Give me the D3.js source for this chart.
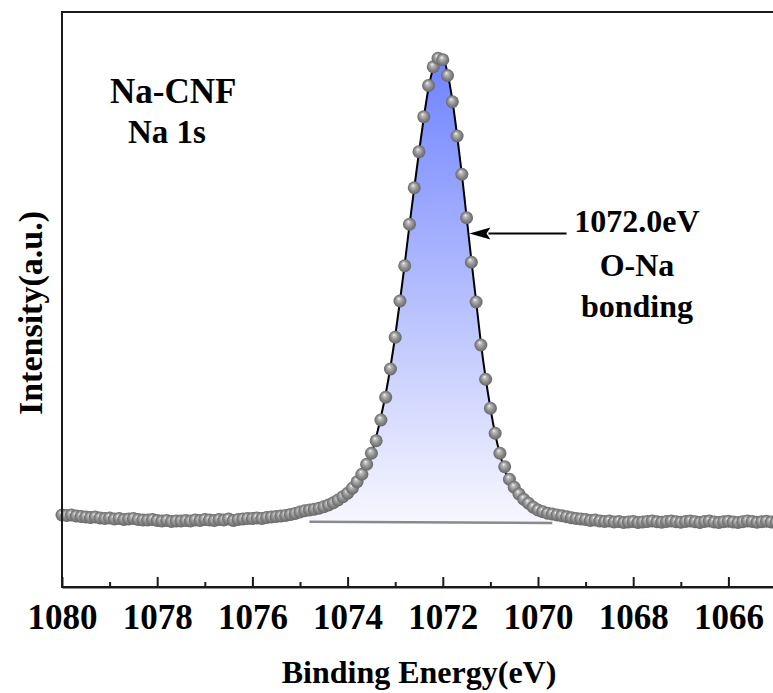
<!DOCTYPE html>
<html>
<head>
<meta charset="utf-8">
<title>Na 1s XPS</title>
<script src="https://cdn.jsdelivr.net/npm/d3@7"></script>
<style>
	html, body { margin: 0; padding: 0; background: #fff; }
	svg { display: block; }
	text { font-family: "Times New Roman", "Liberation Serif", serif; font-weight: bold; fill: #000; }
</style>
</head>
<body>
<svg id="graph"></svg>
<script>
;(() => {
	'use strict';

	/* globals d3 */

	// measured scan, binding energy (eV) -> counts (a.u.)
	const energies = [
		1080.0, 1079.9, 1079.8, 1079.7, 1079.6, 1079.5, 1079.4, 1079.3, 1079.2, 1079.1,
		1079.0, 1078.9, 1078.8, 1078.7, 1078.6, 1078.5, 1078.4, 1078.3, 1078.2, 1078.1,
		1078.0, 1077.9, 1077.8, 1077.7, 1077.6, 1077.5, 1077.4, 1077.3, 1077.2, 1077.1,
		1077.0, 1076.9, 1076.8, 1076.7, 1076.6, 1076.5, 1076.4, 1076.3, 1076.2, 1076.1,
		1076.0, 1075.9, 1075.8, 1075.7, 1075.6, 1075.5, 1075.4, 1075.3, 1075.2, 1075.1,
		1075.0, 1074.9, 1074.8, 1074.7, 1074.6, 1074.5, 1074.4, 1074.3, 1074.2, 1074.1,
		1074.0, 1073.9, 1073.8, 1073.7, 1073.6, 1073.5, 1073.4, 1073.3, 1073.2, 1073.1,
		1073.0, 1072.9, 1072.8, 1072.7, 1072.6, 1072.5, 1072.4, 1072.3, 1072.2, 1072.1,
		1072.0, 1071.9, 1071.8, 1071.7, 1071.6, 1071.5, 1071.4, 1071.3, 1071.2, 1071.1,
		1071.0, 1070.9, 1070.8, 1070.7, 1070.6, 1070.5, 1070.4, 1070.3, 1070.2, 1070.1,
		1070.0, 1069.9, 1069.8, 1069.7, 1069.6, 1069.5, 1069.4, 1069.3, 1069.2, 1069.1,
		1069.0, 1068.9, 1068.8, 1068.7, 1068.6, 1068.5, 1068.4, 1068.3, 1068.2, 1068.1,
		1068.0, 1067.9, 1067.8, 1067.7, 1067.6, 1067.5, 1067.4, 1067.3, 1067.2, 1067.1,
		1067.0, 1066.9, 1066.8, 1066.7, 1066.6, 1066.5, 1066.4, 1066.3, 1066.2, 1066.1,
		1066.0, 1065.9, 1065.8, 1065.7, 1065.6, 1065.5, 1065.4, 1065.3, 1065.2, 1065.1,
		1065.0
	];

	const counts = [
		1440, 1430, 1440, 1420, 1410, 1400, 1390, 1400, 1380, 1370,
		1380, 1360, 1370, 1350, 1360, 1370, 1350, 1340, 1340, 1350,
		1330, 1320, 1330, 1310, 1320, 1320, 1330, 1320, 1340, 1330,
		1350, 1340, 1330, 1350, 1340, 1360, 1330, 1350, 1360, 1370,
		1370, 1380, 1370, 1390, 1400, 1410, 1420, 1430, 1450, 1470,
		1500, 1525, 1540, 1555, 1575, 1605, 1640, 1685, 1740, 1805,
		1875, 1975, 2105, 2255, 2455, 2675, 2925, 3340, 3795, 4360,
		4995, 5720, 6425, 7255, 7985, 8705, 9405, 10030, 10405, 10575,
		10545, 10230, 9705, 9020, 8255, 7385, 6495, 5700, 4840, 4155,
		3575, 3075, 2675, 2405, 2155, 1995, 1860, 1755, 1675, 1595,
		1540, 1505, 1475, 1460, 1440, 1425, 1405, 1385, 1370, 1360,
		1350, 1330, 1340, 1320, 1310, 1320, 1300, 1310, 1290, 1300,
		1310, 1290, 1300, 1310, 1320, 1305, 1295, 1310, 1320, 1305,
		1295, 1310, 1320, 1305, 1290, 1310, 1320, 1300, 1290, 1305,
		1315, 1300, 1290, 1305, 1320, 1310, 1295, 1305, 1315, 1300,
		1290
	];

	// fitted O-Na component (envelope incl. background)
	const fitEnergies = [
		1074.8, 1074.7, 1074.6, 1074.5, 1074.4, 1074.3, 1074.2, 1074.1, 1074.0, 1073.9,
		1073.8, 1073.7, 1073.6, 1073.5, 1073.4, 1073.3, 1073.2, 1073.1, 1073.0, 1072.9,
		1072.8, 1072.7, 1072.6, 1072.5, 1072.4, 1072.3, 1072.2, 1072.1, 1072.0, 1071.9,
		1071.8, 1071.7, 1071.6, 1071.5, 1071.4, 1071.3, 1071.2, 1071.1, 1071.0, 1070.9,
		1070.8, 1070.7, 1070.6, 1070.5, 1070.4, 1070.3, 1070.2, 1070.1, 1070.0, 1069.9,
		1069.8, 1069.7
	];

	const fitCounts = [
		1490, 1505, 1525, 1555, 1590, 1635, 1690, 1755, 1830, 1930,
		2060, 2220, 2420, 2650, 3000, 3400, 3860, 4400, 5020, 5720,
		6460, 7240, 7980, 8700, 9380, 9980, 10380, 10560, 10560, 10280,
		9740, 9040, 8260, 7400, 6540, 5720, 4880, 4180, 3580, 3060,
		2660, 2340, 2100, 1940, 1810, 1710, 1630, 1560, 1500, 1460,
		1430, 1400
	];

	// linear background under the peak
	const bgEnergies = [1074.8, 1069.7],
		bgCounts = [1306, 1280];

	const majorTicks = [1080, 1078, 1076, 1074, 1072, 1070, 1068, 1066],
		minorTicks = [1079, 1077, 1075, 1073, 1071, 1069, 1067, 1065];

	const sampleLines = ['Na-CNF', 'Na 1s'],
		peakLines = ['1072.0eV', 'O-Na', 'bonding'];

	// arrow in data units: from label towards the fitted curve
	const arrowFrom = [1069.4, 7070],
		arrowTo = [1071.44, 7070];


	const width = 773,
		height = 693,
		margin = {top: 12, left: 62, bottom: 106},
		plotRight = 776,
		plotBottom = height - margin.bottom,
		ballRadius = 6.5;

	const svg = d3.select('#graph')
		.attr('width', width)
		.attr('height', height);

	const x = d3.scaleLinear().domain([1080, 1065]).range([margin.left, plotRight]),
		y = d3.scaleLinear().domain([0, 11500]).range([plotBottom, margin.top]);

	const points = energies.map((e, i) => ({e: e, c: counts[i]})),
		fitPoints = fitEnergies.map((e, i) => ({e: e, c: fitCounts[i]})),
		bgPoints = bgEnergies.map((e, i) => ({e: e, c: bgCounts[i]}));


	/**
	* gradients for the peak fill and the shaded balls
	* @returns {undefined}
	*/
	const addDefs = function() {
		const defs = svg.append('defs');

		const fillGrad = defs.append('linearGradient')
			.attr('id', 'peakFill')
			.attr('gradientUnits', 'userSpaceOnUse')
			.attr('x1', 0).attr('x2', 0)
			.attr('y1', y(10560)).attr('y2', y(1300));
		fillGrad.append('stop').attr('offset', 0).attr('stop-color', '#6f83ff');
		fillGrad.append('stop').attr('offset', 1).attr('stop-color', '#f7f7fe');

		const ball = defs.append('radialGradient')
			.attr('id', 'ball')
			.attr('cx', 0.5).attr('cy', 0.5).attr('r', 0.5)
			.attr('fx', 0.4).attr('fy', 0.3);
		ball.append('stop').attr('offset', 0).attr('stop-color', '#ffffff');
		ball.append('stop').attr('offset', 0.2).attr('stop-color', '#c2c2c2');
		ball.append('stop').attr('offset', 0.6).attr('stop-color', '#8e8e8e');
		ball.append('stop').attr('offset', 1).attr('stop-color', '#666666');
	};


	/**
	* filled peak, background line and fitted envelope
	* @returns {undefined}
	*/
	const drawPeak = function() {
		// fill between fit and the straight background
		const bgAt = function(e) {
			const t = (e - bgEnergies[0]) / (bgEnergies[1] - bgEnergies[0]);
			return bgCounts[0] + t * (bgCounts[1] - bgCounts[0]);
		};

		const area = d3.area()
			.x(d => x(d.e))
			.y0(d => y(bgAt(d.e)))
			.y1(d => y(d.c))
			.curve(d3.curveMonotoneX);

		svg.append('path')
			.datum(fitPoints)
			.attr('d', area)
			.attr('fill', 'url(#peakFill)');

		svg.append('path')
			.datum(bgPoints)
			.attr('d', d3.line().x(d => x(d.e)).y(d => y(d.c)))
			.attr('fill', 'none')
			.attr('stroke', '#8a8a8a')
			.attr('stroke-width', 2.5);

		svg.append('path')
			.datum(fitPoints)
			.attr('d', d3.line().x(d => x(d.e)).y(d => y(d.c)).curve(d3.curveMonotoneX))
			.attr('fill', 'none')
			.attr('stroke', '#000')
			.attr('stroke-width', 2);
	};


	/**
	* measured points as shaded balls
	* @returns {undefined}
	*/
	const drawPoints = function() {
		svg.append('g')
			.selectAll('circle')
			.data(points)
			.enter()
			.append('circle')
			.attr('cx', d => x(d.e))
			.attr('cy', d => y(d.c))
			.attr('r', ballRadius)
			.attr('fill', 'url(#ball)');
	};


	/**
	* frame, ticks, tick labels and titles
	* @returns {undefined}
	*/
	const drawAxes = function() {
		svg.append('rect')
			.attr('x', margin.left)
			.attr('y', margin.top)
			.attr('width', plotRight - margin.left)
			.attr('height', plotBottom - margin.top)
			.attr('fill', 'none')
			.attr('stroke', '#1a1a1a')
			.attr('stroke-width', 2);

		const major = svg.append('g')
			.attr('transform', 'translate(0,' + plotBottom + ')')
			.call(d3.axisBottom(x)
				.tickValues(majorTicks)
				.tickSize(-10)
				.tickSizeOuter(0)
				.tickPadding(17)
				.tickFormat(d3.format('d')));
		major.select('.domain').attr('stroke', '#1a1a1a').attr('stroke-width', 2);
		major.selectAll('.tick line').attr('stroke', '#1a1a1a').attr('stroke-width', 2);
		major.selectAll('.tick text')
			.attr('font-family', null)
			.attr('font-size', null)
			.style('font-size', '35px');

		const minor = svg.append('g')
			.attr('transform', 'translate(0,' + plotBottom + ')')
			.call(d3.axisBottom(x)
				.tickValues(minorTicks)
				.tickSize(-5)
				.tickSizeOuter(0)
				.tickFormat(''));
		minor.select('.domain').remove();
		minor.selectAll('.tick line').attr('stroke', '#1a1a1a').attr('stroke-width', 2);

		svg.append('text')
			.attr('x', (margin.left + plotRight) / 2)
			.attr('y', 683)
			.attr('text-anchor', 'middle')
			.style('font-size', '32px')
			.text('Binding Energy(eV)');

		svg.append('text')
			.attr('transform', 'translate(42,313) rotate(-90)')
			.attr('text-anchor', 'middle')
			.style('font-size', '34px')
			.text('Intensity(a.u.)');
	};


	/**
	* sample label and peak annotation with arrow
	* @returns {undefined}
	*/
	const drawLabels = function() {
		svg.append('text')
			.attr('x', 110)
			.attr('y', 103)
			.style('font-size', '35px')
			.text(sampleLines[0]);
		svg.append('text')
			.attr('x', 128)
			.attr('y', 143)
			.style('font-size', '33px')
			.text(sampleLines[1]);

		const peakBase = [232, 276, 317];
		peakLines.forEach((line, i) => {
			svg.append('text')
				.attr('x', 637)
				.attr('y', peakBase[i])
				.attr('text-anchor', 'middle')
				.style('font-size', '32px')
				.text(line);
		});

		const x0 = x(arrowFrom[0]), y0 = y(arrowFrom[1]),
			x1 = x(arrowTo[0]), y1 = y(arrowTo[1]),
			headLen = 21, headHalf = 6;

		svg.append('line')
			.attr('x1', x0).attr('y1', y0)
			.attr('x2', x1 + headLen - 2).attr('y2', y1)
			.attr('stroke', '#000')
			.attr('stroke-width', 2);

		svg.append('path')
			.attr('d', 'M' + x1 + ',' + y1 +
				'L' + (x1 + headLen) + ',' + (y1 - headHalf) +
				'L' + (x1 + headLen - 4) + ',' + y1 +
				'L' + (x1 + headLen) + ',' + (y1 + headHalf) + 'Z')
			.attr('fill', '#000');
	};


	const init = function() {
		addDefs();
		drawPeak();
		drawPoints();
		drawAxes();
		drawLabels();
	};

	init();

})();
</script>
</body>
</html>
